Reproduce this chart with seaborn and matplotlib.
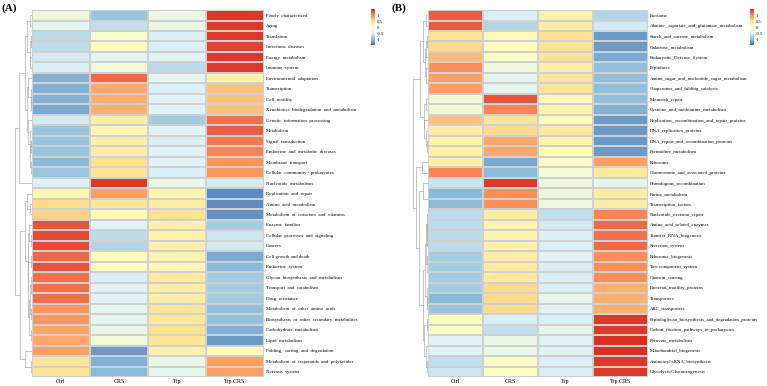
import numpy as np
import pandas as pd
import matplotlib
matplotlib.use("Agg")
import matplotlib.pyplot as plt
from matplotlib.colors import LinearSegmentedColormap
import seaborn as sns

groups = ["Ctrl", "CRS", "Trp", "Trp.CRS"]

# panel A: KEGG level 2/3 categories (row z-scores)
labels_a = [
    "Poorly  characterized", "Aging", "Translation", "Infectious  diseases",
    "Energy  metabolism", "Immune  system", "Environmental  adaptation",
    "Transcription", "Cell  motility", "Xenobiotics  biodegradation  and  metabolism",
    "Genetic  information  processing", "Metabolism", "Signal  transduction",
    "Endocrine  and  metabolic  diseases", "Membrane  transport",
    "Cellular  community - prokaryotes", "Nucleotide  metabolism",
    "Replication  and  repair", "Amino  acid  metabolism",
    "Metabolism  of  cofactors  and  vitamins", "Enzyme  families",
    "Cellular  processes  and  signaling", "Cancers", "Cell growth and death",
    "Endocrine  system", "Glycan  biosynthesis  and  metabolism",
    "Transport  and  catabolism", "Drug  resistance",
    "Metabolism  of  other  amino  acids",
    "Biosynthesis  of  other  secondary  metabolites",
    "Carbohydrate  metabolism", "Lipid  metabolism",
    "Folding,  sorting  and  degradation",
    "Metabolism  of  terpenoids  and  polyketides", "Nervous  system",
]
ctrl_a = [-0.25, -0.4, -0.7, -0.7, -0.55, -0.5, -1.05, -1.05, -1.05, -1.1,
          -0.55, -0.9, -0.9, -0.9, -1.0, -0.9, -0.5, 0.15, 0.55, 0.6,
          1.3, 1.35, 1.35, 1.2, 1.3, 1.15, 1.15, 1.15, 0.95, 0.95,
          0.85, 0.85, 0.9, 0.4, 0.45]
crs_a = [-0.9, -0.65, -0.1, 0.05, -0.4, -0.2, 1.2, 0.85, 0.8, 0.8,
         0.3, 0.15, 0.3, 0.3, 0.5, 0.45, 1.45, 0.9, 0.4, 0.1,
         -0.45, -0.7, -0.75, 0.05, 0.05, -0.5, -0.45, -0.45, -0.4, -0.4,
         -0.3, -0.2, -1.2, -1.05, -1.0]
trp_a = [-0.3, -0.3, -0.5, -0.5, -0.45, -0.7, -0.4, -0.5, -0.45, -0.45,
         -0.85, -0.45, -0.5, -0.45, -0.45, -0.5, -0.3, 0.2, 0.3, 0.5,
         0.25, 0.25, 0.25, 0.2, 0.15, 0.35, 0.3, 0.3, 0.45, 0.4,
         0.5, 0.45, 0.25, -0.3, -0.35]
trpcrs_a = [1.45, 1.45, 1.45, 1.4, 1.45, 1.45, 0.25, 0.7, 0.7, 0.7,
            1.15, 1.25, 1.1, 1.05, 0.95, 0.95, -0.55, -1.3, -1.3, -1.25,
            -0.85, -0.6, -0.55, -1.1, -1.0, -0.85, -0.85, -0.85, -0.95, -0.95,
            -1.05, -1.2, 0.05, 0.9, 0.9]

# panel B: KEGG level 3 pathways (row z-scores)
labels_b = [
    "Exosome", "Alanine,_aspartate_and_glutamate_metabolism",
    "Starch_and_sucrose_metabolism", "Galactose_metabolism",
    "Prokaryotic_Defense_System", "Peptidases",
    "Amino_sugar_and_nucleotide_sugar_metabolism",
    "Chaperones_and_folding_catalysts", "Mismatch_repair",
    "Cysteine_and_methionine_metabolism",
    "Replication,_recombination_and_repair_proteins",
    "DNA_replication_proteins", "DNA_repair_and_recombination_proteins",
    "Pyrimidine_metabolism", "Ribosome", "Chromosome_and_associated_proteins",
    "Homologous_recombination", "Purine_metabolism", "Transcription_factors",
    "Nucleotide_excision_repair", "Amino_acid_related_enzymes",
    "Transfer_RNA_biogenesis", "Secretion_system", "Ribosome_biogenesis",
    "Two-component_system", "Quorum_sensing", "Bacterial_motility_proteins",
    "Transporters", "ABC_transporters",
    "Peptidoglycan_biosynthesis_and_degradation_proteins",
    "Carbon_fixation_pathways_in_prokaryotes", "Pyruvate_metabolism",
    "Mitochondrial_biogenesis", "Aminoacyl-tRNA_biosynthesis",
    "Glycolysis/Gluconeogenesis",
]
ctrl_b = [1.25, 1.25, 0.5, 0.55, 0.75, 1.0, 0.9, 0.9, -0.15, -0.15,
          0.7, 0.3, 0.2, 0.25, 0.25, 1.05, -0.6, -1.0, -1.0, -0.7,
          -0.7, -0.7, -0.7, -0.85, -0.85, -0.85, -0.85, -1.0, -0.9, 0.0,
          -0.05, -0.45, -0.45, -0.65, -0.6]
crs_b = [-0.5, -0.75, 0.1, 0.05, -0.05, -0.25, -0.4, -0.4, 1.3, 1.05,
         0.45, 0.55, 0.85, 0.85, -1.1, -1.0, 1.45, 1.0, 1.0, 0.3,
         0.2, 0.2, 0.25, 0.3, 0.35, 0.35, 0.55, 0.55, 0.55, -0.5,
         -0.65, -0.3, -0.3, -0.05, 0.0]
trp_b = [0.25, 0.3, 0.5, 0.5, 0.45, 0.3, 0.45, 0.45, 0.1, 0.2,
         0.05, 0.35, 0.2, 0.1, -0.05, -0.15, -0.25, -0.25, -0.25, -0.65,
         -0.55, -0.5, -0.5, -0.45, -0.5, -0.5, -0.5, -0.35, -0.45, -0.5,
         -0.35, -0.45, -0.45, -0.5, -0.5]
trpcrs_b = [-0.75, -0.55, -1.2, -1.2, -1.1, -0.95, -0.95, -0.95, -0.95, -1.05,
            -1.2, -1.2, -1.2, -1.2, 0.9, 0.35, -0.35, 0.3, 0.3, 1.05,
            1.2, 1.15, 1.2, 1.0, 1.0, 1.0, 0.8, 0.8, 0.8, 1.45,
            1.45, 1.5, 1.5, 1.45, 1.45]

# pheatmap-like palette
cmap = LinearSegmentedColormap.from_list(
    "rdylbu", ["#4575B4", "#91BFDB", "#E0F3F8", "#FFFFBF",
               "#FEE090", "#FC8D59", "#D73027"])


def order_kept_tree(X):
    """Average-linkage tree that only joins neighbouring rows (keeps order)."""
    nodes = [{"m": [i], "pos": i + 0.5, "h": 0.0} for i in range(len(X))]
    segs = []
    while len(nodes) > 1:
        d = []
        for k in range(len(nodes) - 1):
            a, b = nodes[k]["m"], nodes[k + 1]["m"]
            d.append(np.mean([np.linalg.norm(X[i] - X[j]) for i in a for j in b]))
        k = int(np.argmin(d))
        a, b = nodes[k], nodes[k + 1]
        h = max(d[k], a["h"], b["h"]) + 0.05
        segs += [([a["h"], h], [a["pos"], a["pos"]]),
                 ([b["h"], h], [b["pos"], b["pos"]]),
                 ([h, h], [a["pos"], b["pos"]])]
        nodes[k:k + 2] = [{"m": a["m"] + b["m"],
                           "pos": (a["pos"] + b["pos"]) / 2, "h": h}]
    return segs


def draw_panel(fig, df, x0, x1, dx0, cb_x, tag, tag_x):
    bottom, top = 0.0233, 0.974
    ax = fig.add_axes([x0, bottom, x1 - x0, top - bottom])
    cax = fig.add_axes([cb_x, 1 - 45 / 386, 4 / 767, 36 / 386])
    sns.heatmap(df, ax=ax, cbar_ax=cax, cmap=cmap, vmin=-1.45, vmax=1.5,
                linewidths=0.25, linecolor="#d0d0d0")
    ax.yaxis.tick_right()
    ax.set_yticks(np.arange(len(df)) + 0.5)
    ax.set_yticklabels(df.index, rotation=0, fontsize=3.5, family="Liberation Serif")
    ax.set_xticklabels(df.columns, rotation=0, fontsize=4.3, family="Liberation Serif")
    ax.tick_params(length=0, pad=1.5)
    ax.set_xlabel("")
    ax.set_ylabel("")

    cax.set_yticks([1, 0.5, 0, -0.5, -1])
    cax.set_yticklabels(["1", "0.5", "0", "-0.5", "-1"], fontsize=3.3,
                        family="Liberation Serif")
    cax.tick_params(length=0, pad=1)
    for s in cax.spines.values():
        s.set_visible(False)

    dax = fig.add_axes([dx0, bottom, x0 - dx0, top - bottom])
    for xs, ys in order_kept_tree(df.values):
        dax.plot(xs, ys, color="#9a9a9a", lw=0.4)
    dax.set_ylim(len(df), 0)
    dax.invert_xaxis()
    dax.set_xlim(left=dax.get_xlim()[0] * 1.02, right=0)
    dax.axis("off")

    fig.text(tag_x, 1 - 8 / 386, tag, fontsize=8, fontweight="bold",
             family="Liberation Serif", va="center")


df_a = pd.DataFrame({"Ctrl": ctrl_a, "CRS": crs_a, "Trp": trp_a,
                     "Trp.CRS": trpcrs_a}, index=labels_a)[groups]
df_b = pd.DataFrame({"Ctrl": ctrl_b, "CRS": crs_b, "Trp": trp_b,
                     "Trp.CRS": trpcrs_b}, index=labels_b)[groups]

fig = plt.figure(figsize=(7.67, 3.86), dpi=100)
draw_panel(fig, df_a, 32 / 767, 264 / 767, 14 / 767, 371 / 767, "(A)", 2 / 767)
draw_panel(fig, df_b, 428 / 767, 648 / 767, 412 / 767, 750 / 767, "(B)", 392 / 767)
fig.savefig("out.png", dpi=100)
